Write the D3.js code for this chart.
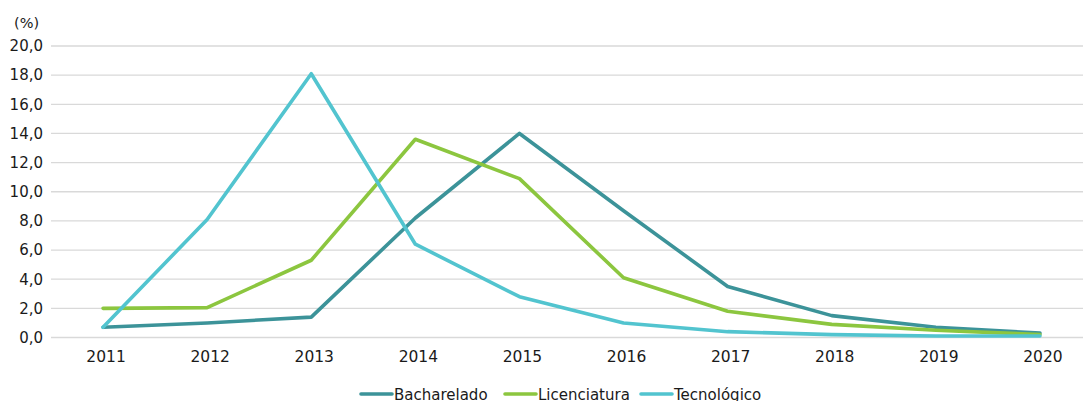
<!DOCTYPE html>
<html>
<head>
<meta charset="utf-8">
<script src="https://cdn.jsdelivr.net/npm/d3@7"></script>
<style>
  body { margin: 0; background: #fff; }
  svg text { font-family: "DejaVu Sans", sans-serif; fill: #1a1a1a; }
</style>
</head>
<body>
<div id="chart"></div>
<script>
// Data
var years = ["2011", "2012", "2013", "2014", "2015", "2016", "2017", "2018", "2019", "2020"];
var bacharelado = [0.7, 1.0, 1.4, 8.2, 14.0, 8.7, 3.5, 1.5, 0.7, 0.3];
var licenciatura = [2.0, 2.05, 5.3, 13.6, 10.9, 4.1, 1.8, 0.9, 0.5, 0.2];
var tecnologico = [0.7, 8.1, 18.1, 6.4, 2.8, 1.0, 0.4, 0.2, 0.1, 0.1];
var yTicks = [0, 2, 4, 6, 8, 10, 12, 14, 16, 18, 20];

var seriesNames = ["Bacharelado", "Licenciatura", "Tecnológico"];
var seriesColors = ["#3c9399", "#8cc63f", "#52c4cf"];
var seriesValues = [bacharelado, licenciatura, tecnologico];

// Layout
var width = 1083, height = 401;
var plotLeft = 51, plotRight = 1092, plotTop = 46, plotBottom = 337.5;

var svg = d3.select("#chart").append("svg")
    .attr("width", width)
    .attr("height", height);

var x = d3.scaleBand().domain(years).range([plotLeft, plotRight]);
var y = d3.scaleLinear().domain([0, 20]).range([plotBottom, plotTop]);

// Gridlines
svg.append("g").selectAll("line")
    .data(yTicks)
    .enter()
    .append("line")
    .attr("x1", plotLeft)
    .attr("x2", width)
    .attr("y1", function(d) { return y(d); })
    .attr("y2", function(d) { return y(d); })
    .attr("stroke", "#d9d9d9")
    .attr("stroke-width", 1.3);

// Y axis labels
var fmt = function(d) { return d3.format(".1f")(d).replace(".", ","); };
var yAxis = d3.axisLeft(y).tickValues(yTicks).tickFormat(fmt).tickSize(0).tickPadding(8);
var yG = svg.append("g").attr("transform", "translate(" + plotLeft + ",0)").call(yAxis);
yG.select(".domain").remove();
yG.selectAll("text").attr("font-size", 15).attr("font-family", "DejaVu Sans, sans-serif").attr("fill", "#1a1a1a");

svg.append("text")
    .attr("x", 14)
    .attr("y", 28)
    .attr("font-size", 14.5)
    .text("(%)");

// X axis labels
var xAxis = d3.axisBottom(x).tickSize(0).tickPadding(13);
var xG = svg.append("g").attr("transform", "translate(3," + plotBottom + ")").call(xAxis);
xG.select(".domain").remove();
xG.selectAll("text").attr("font-size", 15.5).attr("font-family", "DejaVu Sans, sans-serif").attr("fill", "#1a1a1a");

// Lines
var line = d3.line()
    .x(function(d, i) { return x(years[i]) + x.bandwidth() / 2; })
    .y(function(d) { return y(d); });

svg.append("g").selectAll("path")
    .data(seriesValues)
    .enter()
    .append("path")
    .attr("d", line)
    .attr("fill", "none")
    .attr("stroke", function(d, i) { return seriesColors[i]; })
    .attr("stroke-width", 3.6)
    .attr("stroke-linejoin", "round")
    .attr("stroke-linecap", "round");

// Legend
var legendX = [361, 505, 641];
var legend = svg.append("g").selectAll("g")
    .data(seriesNames)
    .enter()
    .append("g")
    .attr("transform", function(d, i) { return "translate(" + legendX[i] + ",394)"; });

legend.append("line")
    .attr("x1", 0).attr("x2", 31)
    .attr("y1", 0).attr("y2", 0)
    .attr("stroke", function(d, i) { return seriesColors[i]; })
    .attr("stroke-width", 3.6)
    .attr("stroke-linecap", "round");

legend.append("text")
    .attr("x", 33)
    .attr("y", 5.5)
    .attr("font-size", 15)
    .text(function(d) { return d; });
</script>
</body>
</html>
